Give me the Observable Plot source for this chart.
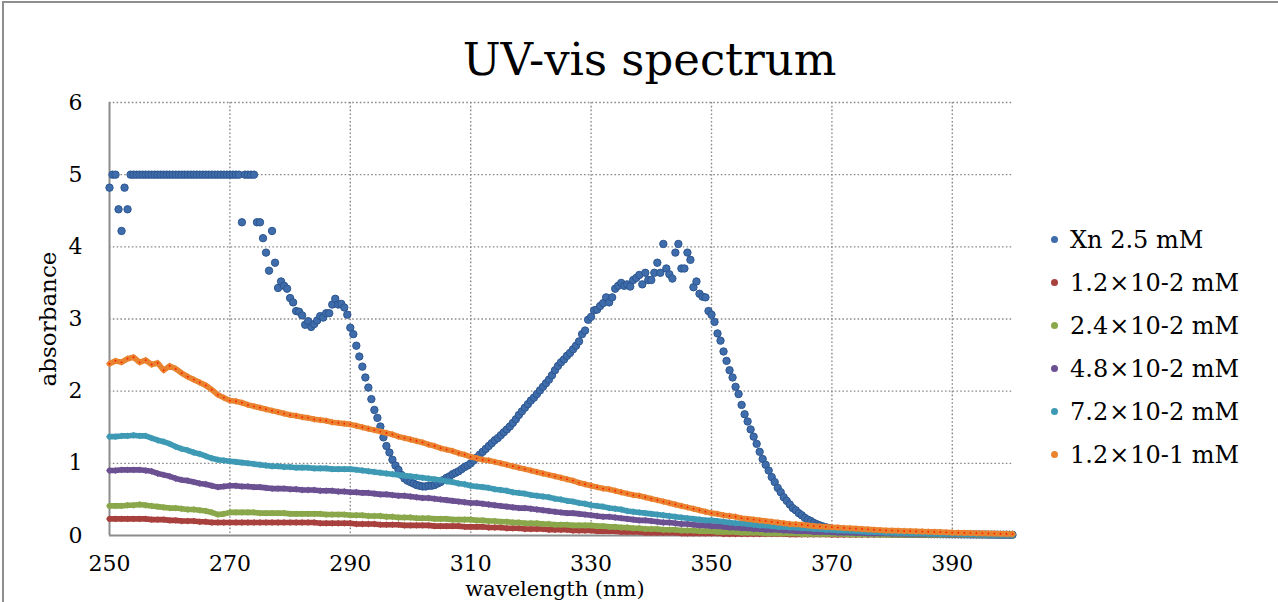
<!DOCTYPE html>
<html>
<head>
<meta charset="utf-8">
<script src="https://cdn.jsdelivr.net/npm/d3@7"></script>
<script src="https://cdn.jsdelivr.net/npm/@observablehq/plot@0.6"></script>
<style>
  body { margin: 0; background: #fff; }
  #chart { position: relative; width: 1278px; height: 602px; overflow: hidden; font-family: "DejaVu Serif", serif; color: #000; }
  #frame { position: absolute; left: 2px; top: 1px; width: 1300px; height: 620px; border-top: 2px solid #8e8e8e; border-left: 2px solid #8e8e8e; }
  #plot { position: absolute; left: 0; top: 0; }
  #title { position: absolute; left: 0; width: 1299px; top: 37px; text-align: center; font-size: 45px; line-height: 1; }
  #ylabel { position: absolute; left: 48px; top: 319px; transform: translate(-50%, -50%) rotate(-90deg); font-size: 23px; white-space: nowrap; line-height: 1; }
  #xlabel { position: absolute; left: 555px; top: 579px; transform: translateX(-50%); font-size: 21px; white-space: nowrap; line-height: 1; }
  #legend { position: absolute; left: 1051px; top: 218px; font-size: 24px; }
  .row { height: 43px; display: flex; align-items: center; white-space: nowrap; }
  .sw { width: 7px; height: 7px; border-radius: 50%; margin-right: 12px; }
  .x { margin: 0 1px; }
</style>
</head>
<body>
<div id="chart">
  <div id="frame"></div>
  <div id="plot"></div>
  <div id="title">UV-vis spectrum</div>
  <div id="ylabel">absorbance</div>
  <div id="xlabel">wavelength (nm)</div>
  <div id="legend"></div>
</div>
<script>
// Axis ticks
const xTicks = [250, 270, 290, 310, 330, 350, 370, 390];
const yTicks = [0, 1, 2, 3, 4, 5, 6];

// Series names and colours
const seriesNames = ["Xn 2.5 mM", "1.2×10-2 mM", "2.4×10-2 mM", "4.8×10-2 mM", "7.2×10-2 mM", "1.2×10-1 mM"];
const seriesColors = ["#3f6dab", "#a8403d", "#8aa84b", "#6b5092", "#3e9ab4", "#e9832f"];

// Xn 2.5 mM: absorbance every 0.5 nm from 250 to 400 nm (saturates at 5)
const xnWavelength = d3.range(0, 301).map(i => 250 + i * 0.5);
const xnAbs = [
  4.82, 5.00, 5.00, 4.52, 4.22, 4.82, 4.52, 5.00, 5.00, 5.00,
  5.00, 5.00, 5.00, 5.00, 5.00, 5.00, 5.00, 5.00, 5.00, 5.00,
  5.00, 5.00, 5.00, 5.00, 5.00, 5.00, 5.00, 5.00, 5.00, 5.00,
  5.00, 5.00, 5.00, 5.00, 5.00, 5.00, 5.00, 5.00, 5.00, 5.00,
  5.00, 5.00, 5.00, 5.00, 4.34, 5.00, 5.00, 5.00, 5.00, 4.34,
  4.34, 4.12, 3.92, 3.67, 4.22, 3.78, 3.43, 3.52, 3.46, 3.42,
  3.29, 3.23, 3.11, 3.10, 3.05, 2.92, 2.97, 2.89, 2.93, 2.98,
  3.04, 3.02, 3.08, 3.08, 3.20, 3.28, 3.20, 3.21, 3.16, 3.06,
  2.88, 2.79, 2.63, 2.48, 2.34, 2.19, 2.05, 1.89, 1.74, 1.63,
  1.51, 1.36, 1.24, 1.15, 1.05, 0.97, 0.91, 0.84, 0.79, 0.76,
  0.74, 0.72, 0.70, 0.69, 0.68, 0.68, 0.69, 0.69, 0.70, 0.72,
  0.74, 0.77, 0.80, 0.82, 0.85, 0.87, 0.89, 0.92, 0.95, 0.97,
  1.00, 1.04, 1.08, 1.12, 1.16, 1.20, 1.24, 1.28, 1.32, 1.35,
  1.39, 1.43, 1.47, 1.51, 1.56, 1.61, 1.67, 1.72, 1.77, 1.82,
  1.87, 1.91, 1.96, 2.01, 2.06, 2.11, 2.16, 2.22, 2.29, 2.35,
  2.40, 2.44, 2.49, 2.53, 2.58, 2.63, 2.69, 2.79, 2.84, 2.99,
  3.03, 3.12, 3.13, 3.18, 3.22, 3.30, 3.23, 3.30, 3.42, 3.46,
  3.50, 3.46, 3.48, 3.45, 3.54, 3.57, 3.61, 3.48, 3.64, 3.54,
  3.54, 3.64, 3.78, 3.64, 4.04, 3.70, 3.62, 3.56, 3.92, 4.04,
  3.70, 3.70, 3.92, 3.82, 3.44, 3.52, 3.35, 3.31, 3.30, 3.11,
  3.06, 2.96, 2.80, 2.70, 2.55, 2.42, 2.29, 2.19, 2.06, 1.96,
  1.81, 1.68, 1.58, 1.47, 1.37, 1.27, 1.16, 1.06, 0.98, 0.90,
  0.81, 0.74, 0.66, 0.60, 0.53, 0.48, 0.43, 0.38, 0.35, 0.31,
  0.28, 0.245, 0.22, 0.20, 0.175, 0.156, 0.14, 0.126, 0.114, 0.104,
  0.095, 0.087, 0.080, 0.074, 0.068, 0.063, 0.058, 0.054, 0.050, 0.047,
  0.044, 0.042, 0.040, 0.038, 0.036, 0.035, 0.033, 0.032, 0.031, 0.030,
  0.029, 0.028, 0.027, 0.026, 0.025, 0.025, 0.024, 0.023, 0.023, 0.022,
  0.021, 0.021, 0.020, 0.020, 0.019, 0.019, 0.018, 0.018, 0.017, 0.017,
  0.016, 0.016, 0.016, 0.015, 0.015, 0.015, 0.014, 0.014, 0.014, 0.013,
  0.013, 0.013, 0.012, 0.012, 0.012, 0.011, 0.011, 0.011, 0.011, 0.010,
  0.010
];

// Diluted samples: absorbance every 1 nm from 250 to 400 nm
const wavelength = d3.range(250, 401);
const abs12e2 = [
  0.23, 0.23, 0.23, 0.23, 0.23, 0.23, 0.23, 0.22, 0.22, 0.22,
  0.21, 0.21, 0.20, 0.20, 0.20, 0.19, 0.19, 0.18, 0.18, 0.18,
  0.18, 0.18, 0.18, 0.18, 0.18, 0.18, 0.18, 0.18, 0.18, 0.18,
  0.18, 0.18, 0.18, 0.18, 0.18, 0.17, 0.17, 0.17, 0.17, 0.17,
  0.17, 0.16, 0.16, 0.16, 0.16, 0.15, 0.15, 0.15, 0.15, 0.14,
  0.14, 0.14, 0.14, 0.14, 0.13, 0.13, 0.13, 0.13, 0.13, 0.12,
  0.12, 0.12, 0.12, 0.11, 0.11, 0.11, 0.10, 0.10, 0.10, 0.09,
  0.09, 0.09, 0.09, 0.08, 0.08, 0.08, 0.08, 0.07, 0.07, 0.07,
  0.07, 0.06, 0.06, 0.06, 0.06, 0.05, 0.05, 0.05, 0.05, 0.04,
  0.04, 0.04, 0.04, 0.04, 0.04, 0.03, 0.03, 0.03, 0.03, 0.03,
  0.03, 0.03, 0.02, 0.02, 0.02, 0.02, 0.02, 0.02, 0.02, 0.02,
  0.02, 0.02, 0.02, 0.015, 0.015, 0.015, 0.015, 0.015, 0.015, 0.015,
  0.01, 0.01, 0.01, 0.01, 0.01, 0.01, 0.01, 0.01, 0.01, 0.01,
  0.01, 0.01, 0.01, 0.01, 0.01, 0.01, 0.01, 0.01, 0.01, 0.01,
  0.01, 0.01, 0.01, 0.01, 0.005, 0.005, 0.005, 0.005, 0.005, 0.005,
  0.005
];
const abs24e2 = [
  0.41, 0.41, 0.41, 0.42, 0.42, 0.43, 0.42, 0.41, 0.40, 0.39,
  0.38, 0.38, 0.37, 0.36, 0.36, 0.35, 0.34, 0.32, 0.29, 0.30,
  0.32, 0.32, 0.32, 0.32, 0.32, 0.31, 0.31, 0.31, 0.31, 0.31,
  0.30, 0.30, 0.30, 0.30, 0.30, 0.30, 0.29, 0.29, 0.29, 0.29,
  0.28, 0.28, 0.28, 0.27, 0.27, 0.27, 0.26, 0.26, 0.25, 0.25,
  0.25, 0.24, 0.24, 0.24, 0.23, 0.23, 0.23, 0.22, 0.22, 0.22,
  0.22, 0.21, 0.21, 0.20, 0.20, 0.19, 0.19, 0.18, 0.18, 0.17,
  0.17, 0.17, 0.16, 0.16, 0.15, 0.15, 0.15, 0.14, 0.14, 0.14,
  0.14, 0.13, 0.13, 0.12, 0.12, 0.11, 0.11, 0.10, 0.10, 0.09,
  0.09, 0.09, 0.08, 0.08, 0.08, 0.07, 0.07, 0.07, 0.06, 0.06,
  0.06, 0.05, 0.05, 0.05, 0.05, 0.04, 0.04, 0.04, 0.04, 0.03,
  0.03, 0.03, 0.03, 0.03, 0.03, 0.02, 0.02, 0.02, 0.02, 0.02,
  0.02, 0.02, 0.02, 0.015, 0.015, 0.015, 0.015, 0.015, 0.01, 0.01,
  0.01, 0.01, 0.01, 0.01, 0.01, 0.01, 0.01, 0.01, 0.01, 0.01,
  0.01, 0.01, 0.01, 0.01, 0.01, 0.005, 0.005, 0.005, 0.005, 0.005,
  0.005
];
const abs48e2 = [
  0.90, 0.90, 0.91, 0.91, 0.91, 0.91, 0.90, 0.89, 0.86, 0.84,
  0.82, 0.79, 0.77, 0.76, 0.74, 0.72, 0.71, 0.69, 0.67, 0.68,
  0.69, 0.69, 0.68, 0.68, 0.67, 0.67, 0.66, 0.65, 0.65, 0.65,
  0.64, 0.64, 0.63, 0.63, 0.63, 0.62, 0.62, 0.62, 0.61, 0.61,
  0.60, 0.60, 0.59, 0.59, 0.58, 0.57, 0.57, 0.56, 0.55, 0.55,
  0.54, 0.53, 0.52, 0.52, 0.51, 0.50, 0.49, 0.48, 0.47, 0.46,
  0.45, 0.45, 0.44, 0.43, 0.42, 0.41, 0.40, 0.39, 0.38, 0.38,
  0.37, 0.36, 0.35, 0.34, 0.33, 0.32, 0.31, 0.31, 0.30, 0.29,
  0.28, 0.27, 0.26, 0.26, 0.25, 0.24, 0.23, 0.22, 0.21, 0.21,
  0.20, 0.19, 0.18, 0.18, 0.17, 0.16, 0.16, 0.15, 0.14, 0.14,
  0.13, 0.13, 0.12, 0.11, 0.11, 0.10, 0.10, 0.09, 0.09, 0.08,
  0.08, 0.08, 0.07, 0.07, 0.06, 0.06, 0.06, 0.05, 0.05, 0.05,
  0.045, 0.04, 0.04, 0.04, 0.035, 0.035, 0.03, 0.03, 0.03, 0.03,
  0.025, 0.025, 0.025, 0.02, 0.02, 0.02, 0.02, 0.02, 0.02, 0.015,
  0.015, 0.015, 0.015, 0.015, 0.015, 0.01, 0.01, 0.01, 0.01, 0.01,
  0.01
];
const abs72e2 = [
  1.37, 1.37, 1.38, 1.38, 1.39, 1.38, 1.38, 1.35, 1.32, 1.30,
  1.27, 1.23, 1.20, 1.18, 1.15, 1.13, 1.10, 1.07, 1.05, 1.04,
  1.03, 1.02, 1.01, 1.00, 0.99, 0.98, 0.97, 0.96, 0.96, 0.95,
  0.95, 0.94, 0.94, 0.94, 0.93, 0.93, 0.93, 0.92, 0.92, 0.92,
  0.92, 0.91, 0.90, 0.89, 0.88, 0.87, 0.86, 0.85, 0.84, 0.83,
  0.82, 0.81, 0.80, 0.79, 0.78, 0.77, 0.75, 0.74, 0.72, 0.71,
  0.69, 0.68, 0.67, 0.66, 0.64, 0.63, 0.62, 0.60, 0.59, 0.58,
  0.56, 0.55, 0.54, 0.53, 0.51, 0.50, 0.48, 0.47, 0.45, 0.44,
  0.42, 0.41, 0.40, 0.38, 0.37, 0.36, 0.34, 0.33, 0.32, 0.31,
  0.30, 0.29, 0.28, 0.27, 0.26, 0.25, 0.24, 0.23, 0.22, 0.21,
  0.21, 0.20, 0.19, 0.18, 0.17, 0.17, 0.16, 0.15, 0.14, 0.14,
  0.13, 0.12, 0.12, 0.11, 0.11, 0.10, 0.10, 0.09, 0.09, 0.08,
  0.08, 0.07, 0.07, 0.065, 0.06, 0.055, 0.05, 0.05, 0.045, 0.04,
  0.04, 0.035, 0.035, 0.03, 0.03, 0.03, 0.025, 0.025, 0.02, 0.02,
  0.02, 0.02, 0.015, 0.015, 0.015, 0.015, 0.01, 0.01, 0.01, 0.01,
  0.01
];
const abs12e1 = [
  2.38, 2.42, 2.40, 2.45, 2.47, 2.40, 2.43, 2.37, 2.39, 2.29,
  2.35, 2.31, 2.25, 2.20, 2.16, 2.12, 2.08, 2.02, 1.95, 1.91,
  1.87, 1.86, 1.84, 1.81, 1.79, 1.77, 1.75, 1.73, 1.71, 1.69,
  1.67, 1.66, 1.64, 1.63, 1.61, 1.60, 1.59, 1.57, 1.56, 1.55,
  1.54, 1.52, 1.50, 1.48, 1.46, 1.44, 1.42, 1.40, 1.37, 1.35,
  1.33, 1.31, 1.29, 1.26, 1.24, 1.21, 1.19, 1.17, 1.14, 1.12,
  1.09, 1.07, 1.05, 1.04, 1.02, 1.00, 0.98, 0.96, 0.94, 0.92,
  0.90, 0.88, 0.86, 0.84, 0.82, 0.80, 0.78, 0.76, 0.73, 0.71,
  0.69, 0.67, 0.65, 0.64, 0.62, 0.60, 0.58, 0.56, 0.55, 0.53,
  0.51, 0.49, 0.47, 0.45, 0.43, 0.41, 0.39, 0.37, 0.35, 0.33,
  0.31, 0.30, 0.28, 0.27, 0.26, 0.24, 0.23, 0.22, 0.21, 0.20,
  0.19, 0.18, 0.17, 0.16, 0.155, 0.15, 0.14, 0.13, 0.125, 0.12,
  0.115, 0.11, 0.105, 0.10, 0.095, 0.09, 0.085, 0.08, 0.075, 0.07,
  0.068, 0.065, 0.062, 0.06, 0.057, 0.055, 0.052, 0.05, 0.047, 0.044,
  0.04, 0.038, 0.036, 0.034, 0.032, 0.03, 0.028, 0.026, 0.024, 0.022,
  0.02
];

const xnRows = xnWavelength.map((w, i) => ({w, a: xnAbs[i]}));
const dilutions = [abs12e2, abs24e2, abs48e2, abs72e2, abs12e1]
  .map(values => wavelength.map((w, i) => ({w, a: values[i]})));

// Band marks for each diluted sample, drawn in series order so later ones sit on top
const bandMarks = dilutions.flatMap((rows, k) => [
  Plot.line(rows, {x: "w", y: "a", stroke: seriesColors[k + 1], strokeWidth: 5.6, curve: "linear"}),
  Plot.dot(rows, {x: "w", y: "a", r: 3.1, fill: seriesColors[k + 1], symbol: "diamond2"})
]);

const fontFamily = "'DejaVu Serif', serif";

const chart = Plot.plot({
  width: 1278,
  height: 602,
  marginLeft: 109,
  marginRight: 266,
  marginTop: 102,
  marginBottom: 67,
  style: {background: "transparent", fontFamily, color: "#000", overflow: "visible"},
  x: {domain: [250, 400]},
  y: {domain: [0, 6]},
  marks: [
    Plot.gridX(xTicks.slice(1), {stroke: "#8a8a8a", strokeOpacity: 1, strokeWidth: 1.4, strokeDasharray: "1.6,2.2"}),
    Plot.gridY(yTicks.slice(1), {stroke: "#8a8a8a", strokeOpacity: 1, strokeWidth: 1.4, strokeDasharray: "1.6,2.2"}),
    Plot.ruleX([250], {stroke: "#8c8c8c", strokeWidth: 2}),
    Plot.ruleY([0], {stroke: "#8c8c8c", strokeWidth: 2}),
    Plot.axisX(xTicks, {tickSize: 0, tickPadding: 20, fontSize: 22, fontFamily, fill: "#000", label: null, tickFormat: d3.format("d")}),
    Plot.axisY(yTicks, {tickSize: 0, tickPadding: 27, fontSize: 22, fontFamily, fill: "#000", label: null, tickFormat: d3.format("d")}),
    Plot.dot(xnRows, {x: "w", y: "a", r: 3.7, fill: seriesColors[0], stroke: "#2c5690", strokeWidth: 1}),
    ...bandMarks,
    Plot.dot(dilutions[4], {x: "w", y: "a", r: 0.9, fill: "#ff1a00"})
  ]
});
document.getElementById("plot").appendChild(chart);

// Legend
const legend = d3.select("#legend");
seriesNames.forEach((name, i) => {
  const row = legend.append("div").attr("class", "row");
  row.append("div").attr("class", "sw").style("background", seriesColors[i]);
  const parts = name.split("×");
  const label = row.append("span");
  label.append("span").text(parts[0]);
  if (parts.length > 1) {
    label.append("span").attr("class", "x").text("×");
    label.append("span").text(parts[1]);
  }
});
</script>
</body>
</html>
